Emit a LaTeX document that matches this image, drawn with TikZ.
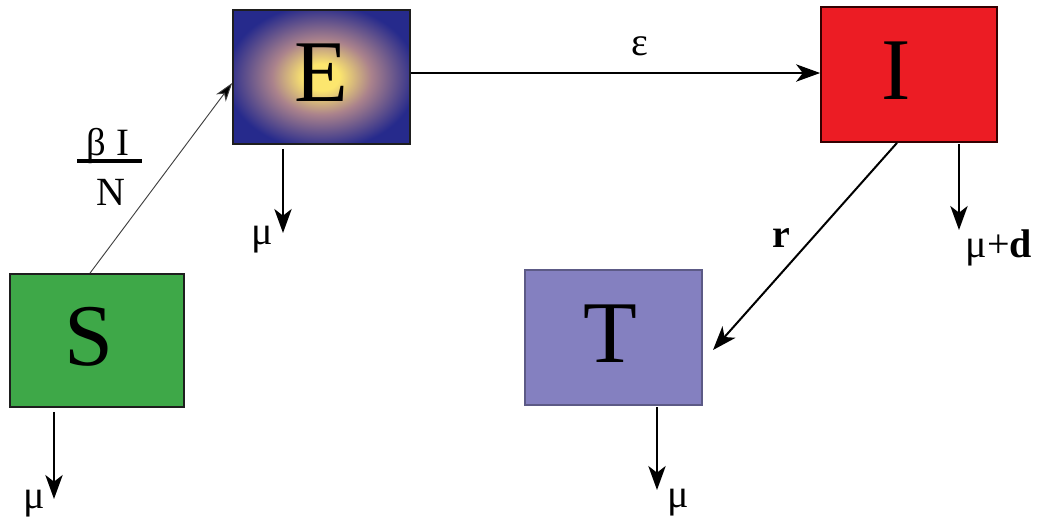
\documentclass[tikz,border=0pt]{standalone}
\usepackage{fontspec}
\setmainfont{Liberation Serif}
\usetikzlibrary{arrows.meta,calc}
\definecolor{sgreen}{RGB}{62,168,72}
\definecolor{ired}{RGB}{236,28,36}
\definecolor{tpurple}{RGB}{132,128,192}
\definecolor{eblue}{RGB}{38,42,140}
\definecolor{emid}{RGB}{170,130,140}
\definecolor{eyellow}{RGB}{252,230,110}
\definecolor{edge}{RGB}{30,30,30}
\pgfdeclareradialshading{eglow}{\pgfpoint{0bp}{0bp}}{color(0bp)=(eyellow); color(5bp)=(eyellow); color(14bp)=(emid); color(27bp)=(eblue); color(50bp)=(eblue)}
\tikzset{
  box/.style={draw=edge, line width=1.3pt, inner sep=0pt, font=\fontsize{66}{66}\selectfont, text height=45pt, text depth=8pt},
  flow/.style={line width=1.5pt, -{Stealth[length=18pt,width=13pt,inset=5pt]}},
  thinflow/.style={line width=0.7pt, draw=black!75, -{Stealth[length=14pt,width=9pt,inset=4pt,fill=black]}},
  lab/.style={font=\fontsize{30}{30}\selectfont, inner sep=0pt, anchor=base},
}
\begin{document}
\begin{tikzpicture}[x=0.75pt,y=-0.75pt]
\useasboundingbox (0,0) rectangle (1038,522);
\node[box, fill=sgreen, minimum width=130.5pt, minimum height=99.75pt] (S) at (97,340.5) {S\hspace*{12pt}};
\node[box, shading=eglow, minimum width=132.75pt, minimum height=100.5pt] (E) at (321.5,77) {E};
\node[box, fill=ired, draw=black!80!red, minimum width=132pt, minimum height=101.25pt] (I) at (909,74.5) {I\hspace*{20pt}};
\node[box, fill=tpurple, draw=tpurple!70!black, minimum width=132.75pt, minimum height=101.25pt] (T) at (613.5,337.5) {T\hspace*{4pt}};
% inflow S -> E
\draw[thinflow] ([xshift=-5.25pt]S.north) -- ([yshift=-4.5pt]E.west);
\node[lab, font=\fontsize{29}{29}\selectfont] (bI) at (108,155) {β I};
\node[lab, font=\fontsize{30}{30}\selectfont] (N) at (111,205) {N};
\draw[line width=3pt] (77,161) -- (142,161);
% E -> I
\draw[flow] ([yshift=3pt]E.east) -- ([yshift=3pt]E.east -| I.west);
\node[lab] (eps) at (640,55) {ε};
% I -> T
\coordinate (tT) at (713,350);
\draw[flow] ([xshift=-9pt]I.south) -- (tT);
\node[lab] (r) at (781,247) {\textbf{r}};
% death outflows
\coordinate (sOut) at (54,499);
\coordinate (eOut) at (283,233);
\coordinate (iOut) at (959,230);
\coordinate (tOut) at (657,490);
\draw[flow, shorten <=3pt] (S.south -| sOut) -- (sOut);
\draw[flow, shorten <=3pt] (E.south -| eOut) -- (eOut);
\draw[flow, shorten <=1pt] (I.south -| iOut) -- (iOut);
\draw[flow, shorten <=1pt] (T.south -| tOut) -- (tOut);
\node[lab] (muS) at (34,508) {μ};
\node[lab] (muE) at (262,244) {μ};
\node[lab] (muT) at (678,507) {μ};
\node[lab] (muI) at (999,257) {μ+\textbf{d}};
\end{tikzpicture}
\end{document}
